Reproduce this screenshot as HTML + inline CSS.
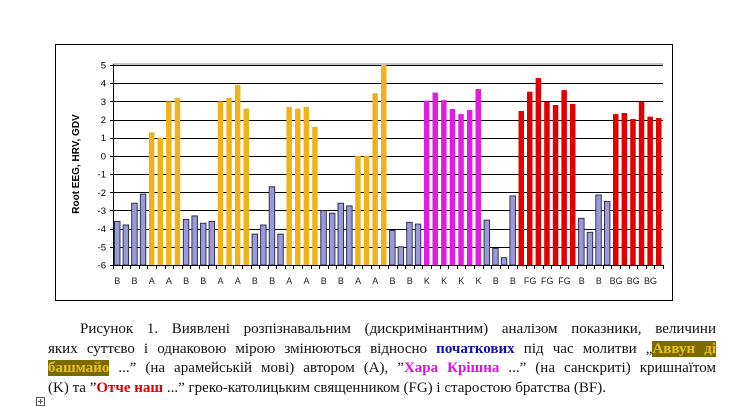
<!DOCTYPE html>
<html><head><meta charset="utf-8">
<style>
html,body{margin:0;padding:0;background:#fff;width:737px;height:406px;overflow:hidden;position:relative}
svg{position:absolute;left:0;top:0}
.cap{position:absolute;left:48px;width:668px;font-family:"Liberation Serif",serif;font-size:15px;line-height:19.7px;top:320px;color:#111}
.cap div{text-align:justify;text-align-last:justify;white-space:nowrap}
.cap div.last{text-align-last:left}
.hl{background:#7a6a00;color:#e8c020;font-weight:bold}
</style></head><body>
<svg width="737" height="406" xmlns="http://www.w3.org/2000/svg" font-family="Liberation Sans, sans-serif">
<rect x="55.5" y="44.5" width="617" height="256" fill="#fff" stroke="#000" stroke-width="1"/>
<g id="grid" stroke="#000" stroke-width="1"></g>
<g id="bars"></g>
<line x1="113" y1="64" x2="663" y2="64" stroke="#888"/>
<line x1="113.5" y1="64" x2="113.5" y2="265" stroke="#000"/>
<g id="ticks" stroke="#000"></g>
<g font-size="9.5" text-anchor="end" fill="#000">
<text x="106" y="68.5">5</text><text x="106" y="86.7">4</text><text x="106" y="104.9">3</text><text x="106" y="123">2</text><text x="106" y="141.2">1</text><text x="106" y="159.4">0</text><text x="106" y="177.6">-1</text><text x="106" y="195.8">-2</text><text x="106" y="213.9">-3</text><text x="106" y="232.1">-4</text><text x="106" y="250.3">-5</text><text x="106" y="268.5">-6</text>
</g>
<text transform="translate(79,164) rotate(-90)" font-size="10" font-weight="bold" text-anchor="middle">Root EEG, HRV, GDV</text>
<g font-size="9" text-anchor="middle" fill="#222">
<text x="117.3" y="284">B</text><text x="134.5" y="284">B</text><text x="151.7" y="284">A</text><text x="168.9" y="284">A</text><text x="186.1" y="284">B</text><text x="203.3" y="284">B</text><text x="220.5" y="284">A</text><text x="237.7" y="284">A</text><text x="254.9" y="284">B</text><text x="272.1" y="284">B</text><text x="289.3" y="284">A</text><text x="306.5" y="284">A</text><text x="323.7" y="284">B</text><text x="340.9" y="284">B</text><text x="358.1" y="284">A</text><text x="375.3" y="284">A</text><text x="392.5" y="284">B</text><text x="409.7" y="284">B</text><text x="426.9" y="284">K</text><text x="444.1" y="284">K</text><text x="461.3" y="284">K</text><text x="478.5" y="284">K</text><text x="495.7" y="284">B</text><text x="512.9" y="284">B</text><text x="530.1" y="284">FG</text><text x="547.3" y="284">FG</text><text x="564.5" y="284">FG</text><text x="581.7" y="284">B</text><text x="598.9" y="284">B</text><text x="616.1" y="284">BG</text><text x="633.3" y="284">BG</text><text x="650.5" y="284">BG</text>
</g>
<rect x="36.5" y="397.5" width="8" height="8" fill="#fff" stroke="#555"/>
<line x1="38" y1="401.5" x2="43" y2="401.5" stroke="#555"/><line x1="40.5" y1="399" x2="40.5" y2="404" stroke="#555"/>
</svg>
<div class="cap">
<div style="padding-left:32px">Рисунок 1. Виявлені розпізнавальним (дискримінантним) аналізом показники, величини</div>
<div>яких суттєво і однаковою мірою змінюються відносно <b style="color:#1010b0">початкових</b> під час молитви „<span class="hl">Аввун ді</span></div>
<div><span class="hl">башмайо</span> ...” (на арамейській мові) автором (А), ”<b style="color:#e010e0">Хара Крішна</b> ...” (на санскриті) кришнаїтом</div>
<div class="last">(K) та ”<b style="color:#e00000">Отче наш</b> ...” греко-католицьким священником (FG) і старостою братства (BF).</div>
</div>
<script>
var Y=function(v){return 65+(5-v)*200/11;};
var g=document.getElementById('grid'),b=document.getElementById('bars'),t=document.getElementById('ticks'),ns='http://www.w3.org/2000/svg';
for(var v=-6;v<=5;v++){var l=document.createElementNS(ns,'line');var y=Math.round(Y(v))+0.5;l.setAttribute('x1',113);l.setAttribute('x2',663);l.setAttribute('y1',y);l.setAttribute('y2',y);g.appendChild(l);
var k=document.createElementNS(ns,'line');k.setAttribute('x1',110);k.setAttribute('x2',113);k.setAttribute('y1',y);k.setAttribute('y2',y);t.appendChild(k);}
for(var i=0;i<=64;i++){var x=Math.round(113+i*550/64)+0.5;var k=document.createElementNS(ns,'line');k.setAttribute('x1',x);k.setAttribute('x2',x);k.setAttribute('y1',265);k.setAttribute('y2',269);t.appendChild(k);}
var B='b',A='a',K='k',R='r';
var d=[[B,-3.6],[B,-3.8],[B,-2.6],[B,-2.1],[A,1.3],[A,1.0],[A,3.0],[A,3.2],
[B,-3.5],[B,-3.3],[B,-3.7],[B,-3.6],[A,3.0],[A,3.2],[A,3.9],[A,2.6],
[B,-4.3],[B,-3.8],[B,-1.7],[B,-4.3],[A,2.7],[A,2.6],[A,2.7],[A,1.6],
[B,-3.0],[B,-3.15],[B,-2.6],[B,-2.75],[A,0],[A,0],[A,3.45],[A,5.0],
[B,-4.1],[B,-5.0],[B,-3.65],[B,-3.75],
[K,3.04],[K,3.48],[K,3.07],[K,2.58],[K,2.3],[K,2.52],[K,3.68],
[B,-3.53],[B,-5.1],[B,-5.6],[B,-2.2],
[R,2.47],[R,3.53],[R,4.28],[R,2.98],[R,2.8],[R,3.62],[R,2.86],
[B,-3.43],[B,-4.2],[B,-2.15],[B,-2.5],
[R,2.3],[R,2.36],[R,2.03],[R,2.98],[R,2.16],[R,2.08]];
var col={b:'#9a9ad8',a:'#f0b21a',k:'#e01ee0',r:'#e00000'};
d.forEach(function(e,i){var cx=117.3+i*550/64;var y=Y(e[1]);var r=document.createElementNS(ns,'rect');
r.setAttribute('x',(cx-2.75).toFixed(1));r.setAttribute('y',y.toFixed(1));r.setAttribute('width',5.5);r.setAttribute('height',(265-y).toFixed(1));r.setAttribute('fill',col[e[0]]);
if(e[0]=='b'){r.setAttribute('stroke','#22224a');r.setAttribute('stroke-width','0.9');}
b.appendChild(r);});
</script>
</body></html>
